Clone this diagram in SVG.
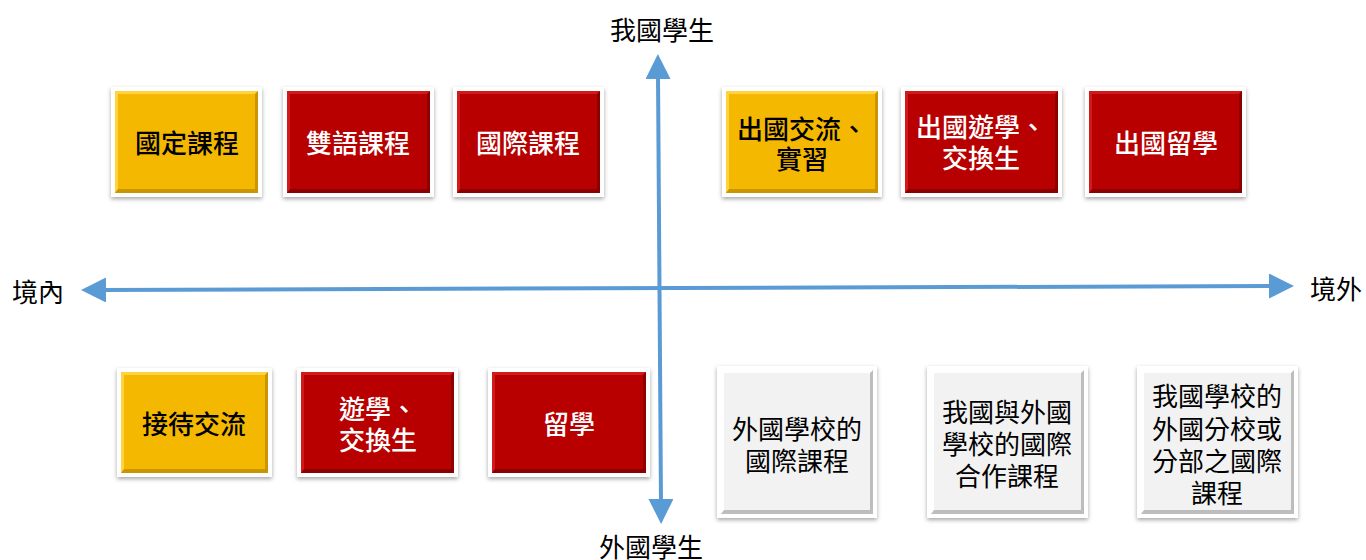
<svg xmlns="http://www.w3.org/2000/svg" width="1366" height="560" viewBox="0 0 1366 560">
<style>
  .frame { fill: #ffffff; filter: url(#shadow); }
  .yellow .fill { fill: #F5B800; }
  .red .fill { fill: #B80000; }
  .gray .fill { fill: #F2F2F2; }
  .yellow .dark { fill: #C99500; }
  .red .dark { fill: #8A0000; }
  .gray .dark { fill: #BDBDBD; }
  .yellow .light { fill: #FFD23F; }
  .red .light { fill: #D21A1A; }
  .gray .light { fill: #FFFFFF; }
  text { font-family: "Noto Sans CJK TC", "Noto Sans CJK SC", sans-serif; font-size: 26px; text-anchor: middle; dominant-baseline: central; }
  .yellow text { fill: #000000; font-weight: 500; }
  .red text { fill: #FFFFFF; font-weight: 500; }
  .gray text { fill: #000000; font-weight: 400; }
  .label { fill: #000000; font-weight: 400; }
  .axis { stroke: #5B9BD5; stroke-width: 4; fill: none; }
</style>
<defs>
  <filter id="shadow" x="-10%" y="-10%" width="120%" height="125%">
    <feDropShadow dx="0" dy="2" stdDeviation="2.2" flood-color="#000" flood-opacity="0.35"/>
  </filter>
  <marker id="arrow" viewBox="0 0 10 10" refX="2" refY="5" markerUnits="userSpaceOnUse" markerWidth="27" markerHeight="25" orient="auto-start-reverse">
    <path d="M0,0 L10,5 L0,10 Z" fill="#5B9BD5"/>
  </marker>
</defs>
<rect width="1366" height="560" fill="#ffffff"/>

<g id="connectors">
  <line class="axis" x1="101" y1="290" x2="1274" y2="286" marker-start="url(#arrow)" marker-end="url(#arrow)"/>
  <line class="axis" x1="658" y1="74" x2="661" y2="504" marker-start="url(#arrow)" marker-end="url(#arrow)"/>
</g>

<g id="axis-labels">
  <text class="label" x="662" y="28">我國學生</text>
  <text class="label" x="651" y="545">外國學生</text>
  <text class="label" x="38" y="290">境內</text>
  <text class="label" x="1336" y="287">境外</text>
</g>

<g id="n-guoding" class="node yellow">
  <rect class="frame" x="111" y="87" width="151" height="110"/>
  <rect class="fill" x="115" y="91" width="143" height="102"/>
  <path class="light" d="M115,91 H258 L255,94 H118 V190 L115,193 Z"/>
  <path class="dark" d="M258,91 V193 H115 L118,189 H255 V94 Z"/>
  <text x="187" y="141">國定課程</text>
</g>
<g id="n-shuangyu" class="node red">
  <rect class="frame" x="283" y="87" width="151" height="110"/>
  <rect class="fill" x="287" y="91" width="143" height="102"/>
  <path class="light" d="M287,91 H430 L427,94 H290 V190 L287,193 Z"/>
  <path class="dark" d="M430,91 V193 H287 L290,189 H427 V94 Z"/>
  <text x="358" y="141">雙語課程</text>
</g>
<g id="n-guoji" class="node red">
  <rect class="frame" x="453" y="87" width="151" height="110"/>
  <rect class="fill" x="457" y="91" width="143" height="102"/>
  <path class="light" d="M457,91 H600 L597,94 H460 V190 L457,193 Z"/>
  <path class="dark" d="M600,91 V193 H457 L460,189 H597 V94 Z"/>
  <text x="528" y="141">國際課程</text>
</g>

<g id="n-chuguo-jiaoliu" class="node yellow">
  <rect class="frame" x="722" y="87" width="160" height="110"/>
  <rect class="fill" x="726" y="91" width="152" height="102"/>
  <path class="light" d="M726,91 H878 L875,94 H729 V190 L726,193 Z"/>
  <path class="dark" d="M878,91 V193 H726 L729,189 H875 V94 Z"/>
  <text x="802" y="127">出國交流、</text>
  <text x="802" y="157">實習</text>
</g>
<g id="n-chuguo-youxue" class="node red">
  <rect class="frame" x="901" y="87" width="161" height="110"/>
  <rect class="fill" x="905" y="91" width="153" height="102"/>
  <path class="light" d="M905,91 H1058 L1055,94 H908 V190 L905,193 Z"/>
  <path class="dark" d="M1058,91 V193 H905 L908,189 H1055 V94 Z"/>
  <text x="981" y="125">出國遊學、</text>
  <text x="981" y="156">交換生</text>
</g>
<g id="n-chuguo-liuxue" class="node red">
  <rect class="frame" x="1085" y="87" width="161" height="110"/>
  <rect class="fill" x="1089" y="91" width="153" height="102"/>
  <path class="light" d="M1089,91 H1242 L1239,94 H1092 V190 L1089,193 Z"/>
  <path class="dark" d="M1242,91 V193 H1089 L1092,189 H1239 V94 Z"/>
  <text x="1166" y="141">出國留學</text>
</g>

<g id="n-jiedai" class="node yellow">
  <rect class="frame" x="117" y="368" width="155" height="109"/>
  <rect class="fill" x="121" y="372" width="147" height="101"/>
  <path class="light" d="M121,372 H268 L265,375 H124 V470 L121,473 Z"/>
  <path class="dark" d="M268,372 V473 H121 L124,469 H265 V375 Z"/>
  <text x="194" y="422">接待交流</text>
</g>
<g id="n-youxue" class="node red">
  <rect class="frame" x="297" y="368" width="161" height="109"/>
  <rect class="fill" x="301" y="372" width="153" height="101"/>
  <path class="light" d="M301,372 H454 L451,375 H304 V470 L301,473 Z"/>
  <path class="dark" d="M454,372 V473 H301 L304,469 H451 V375 Z"/>
  <text x="378" y="407">遊學、</text>
  <text x="378" y="438">交換生</text>
</g>
<g id="n-liuxue" class="node red">
  <rect class="frame" x="488" y="368" width="162" height="109"/>
  <rect class="fill" x="492" y="372" width="154" height="101"/>
  <path class="light" d="M492,372 H646 L643,375 H495 V470 L492,473 Z"/>
  <path class="dark" d="M646,372 V473 H492 L495,469 H643 V375 Z"/>
  <text x="569" y="422">留學</text>
</g>

<g id="n-waiguo-xuexiao" class="node gray">
  <rect class="frame" x="717" y="366" width="160" height="152"/>
  <rect class="fill" x="721" y="370" width="152" height="144"/>
  <path class="light" d="M721,370 H873 L870,373 H724 V511 L721,514 Z"/>
  <path class="dark" d="M873,370 V514 H721 L724,510 H870 V373 Z"/>
  <text x="797" y="427">外國學校的</text>
  <text x="797" y="459">國際課程</text>
</g>
<g id="n-hezuo" class="node gray">
  <rect class="frame" x="927" y="366" width="161" height="152"/>
  <rect class="fill" x="931" y="370" width="153" height="144"/>
  <path class="light" d="M931,370 H1084 L1081,373 H934 V511 L931,514 Z"/>
  <path class="dark" d="M1084,370 V514 H931 L934,510 H1081 V373 Z"/>
  <text x="1007" y="410">我國與外國</text>
  <text x="1007" y="442">學校的國際</text>
  <text x="1007" y="474">合作課程</text>
</g>
<g id="n-fenxiao" class="node gray">
  <rect class="frame" x="1137" y="366" width="161" height="152"/>
  <rect class="fill" x="1141" y="370" width="153" height="144"/>
  <path class="light" d="M1141,370 H1294 L1291,373 H1144 V511 L1141,514 Z"/>
  <path class="dark" d="M1294,370 V514 H1141 L1144,510 H1291 V373 Z"/>
  <text x="1217" y="394">我國學校的</text>
  <text x="1217" y="427">外國分校或</text>
  <text x="1217" y="459">分部之國際</text>
  <text x="1217" y="491">課程</text>
</g>
</svg>
